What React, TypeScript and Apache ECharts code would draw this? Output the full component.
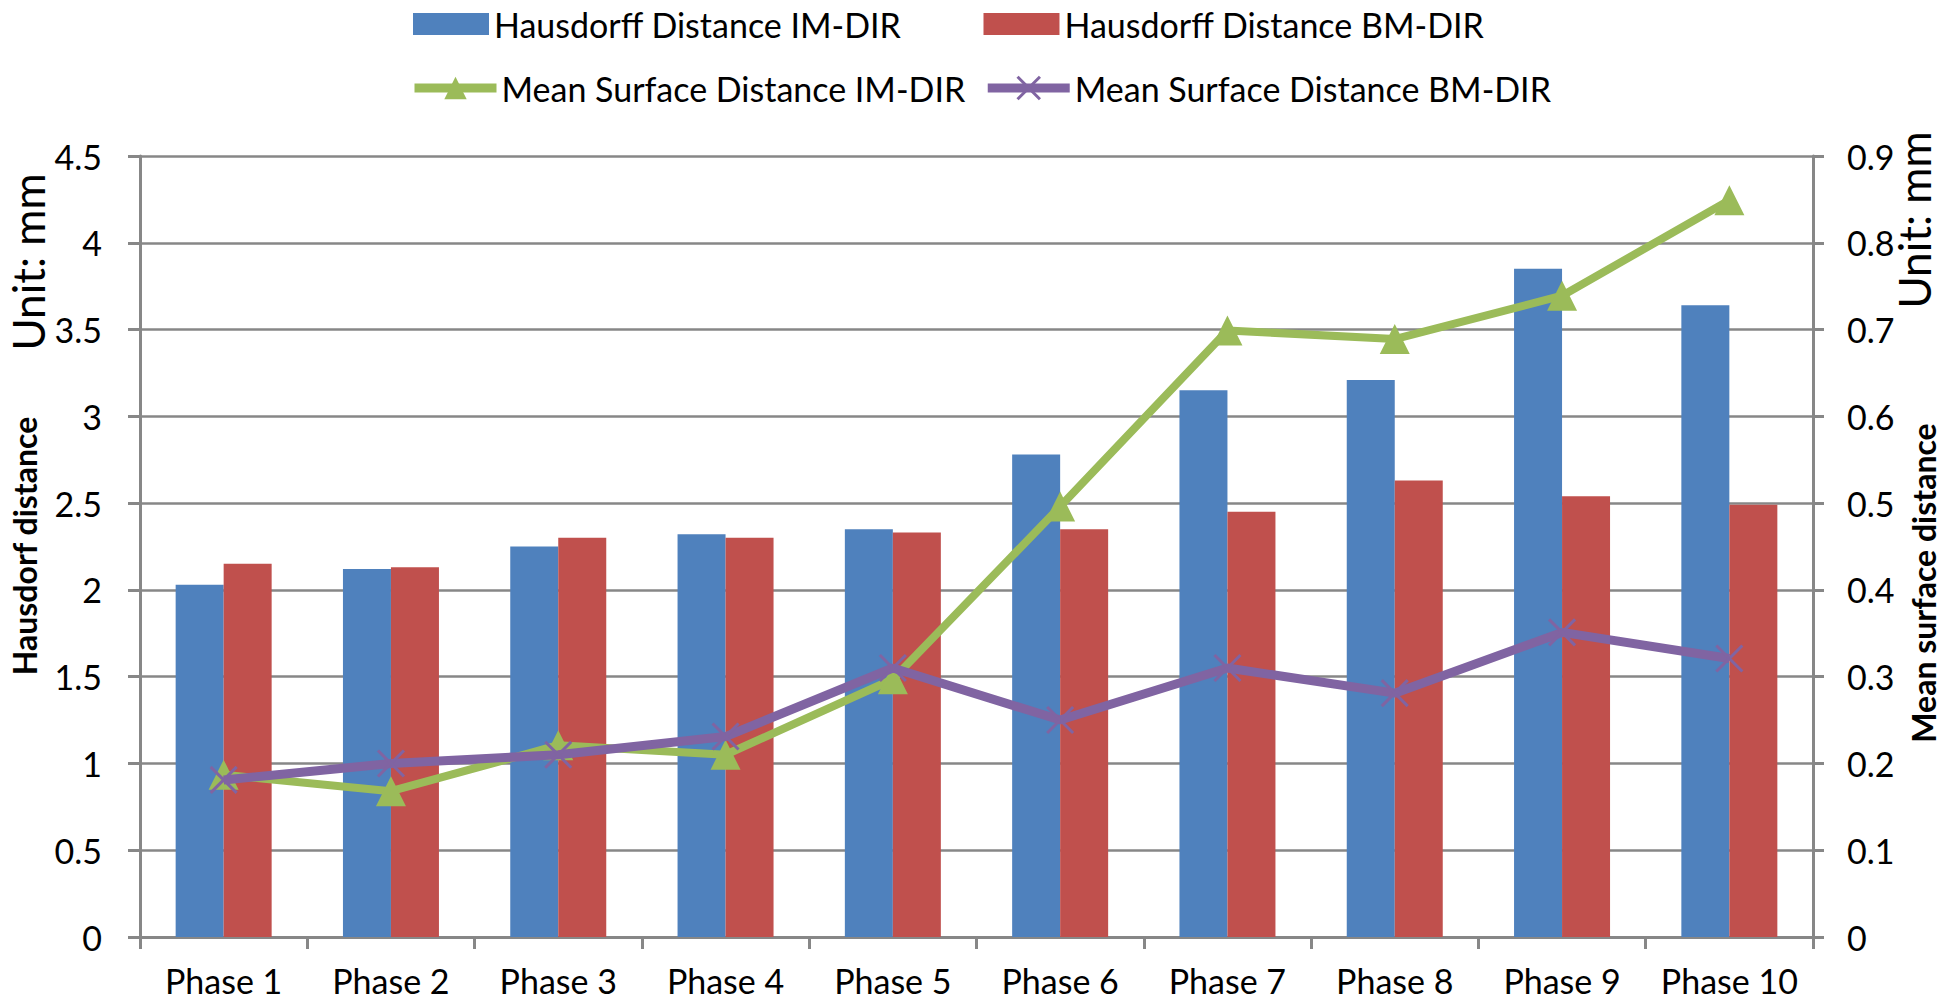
import React, { useEffect, useRef } from "react";
import * as echarts from "echarts";

const phases = ["Phase 1", "Phase 2", "Phase 3", "Phase 4", "Phase 5", "Phase 6", "Phase 7", "Phase 8", "Phase 9", "Phase 10"];
const hdIM = [2.03, 2.12, 2.25, 2.32, 2.35, 2.78, 3.15, 3.21, 3.85, 3.64];
const hdBM = [2.15, 2.13, 2.30, 2.30, 2.33, 2.35, 2.45, 2.63, 2.54, 2.49];
const msdIM = [0.187, 0.168, 0.221, 0.21, 0.297, 0.496, 0.699, 0.689, 0.739, 0.849];
const msdBM = [0.181, 0.2, 0.21, 0.231, 0.31, 0.25, 0.31, 0.281, 0.351, 0.321];
const leftTicks = { min: 0, max: 4.5, interval: 0.5 };
const rightTicks = { min: 0, max: 0.9, interval: 0.1 };

const FONT = "Lato, 'Noto Sans', sans-serif";
const GRAY = "#878787";
const X_PATH = "path://M0,0L10,10M0,10L10,0";

export default function App() {
  const ref = useRef<HTMLDivElement>(null);
  useEffect(() => {
    if (!ref.current) return;
    const chart = echarts.init(ref.current, undefined, { renderer: "svg" });
    chart.setOption({
      animation: false,
      backgroundColor: "#ffffff",
      textStyle: { fontFamily: FONT },
      legend: [
        {
          left: 408,
          top: 2,
          itemWidth: 76,
          itemHeight: 22,
          itemGap: 82,
          icon: "rect",
          textStyle: { fontFamily: FONT, fontSize: 34, color: "#000" },
          data: ["Hausdorff Distance IM-DIR", "Hausdorff Distance BM-DIR"],
        },
        {
          left: 405,
          top: 66,
          itemWidth: 82,
          itemHeight: 28,
          itemGap: 18,
          textStyle: { fontFamily: FONT, fontSize: 34, color: "#000" },
          itemStyle: { borderWidth: 3 },
          lineStyle: { width: 9 },
          data: ["Mean Surface Distance IM-DIR", "Mean Surface Distance BM-DIR"],
        },
      ],
      grid: { left: 140, right: 133, top: 156, bottom: 62, containLabel: false },
      xAxis: {
        type: "category",
        data: phases,
        axisLine: { lineStyle: { color: GRAY, width: 3 } },
        axisTick: { show: true, length: 12, lineStyle: { color: GRAY, width: 3 } },
        axisLabel: { fontFamily: FONT, fontSize: 34, color: "#000", margin: 26, interval: 0 },
      },
      yAxis: [
        {
          type: "value",
          ...leftTicks,
          position: "left",
          axisLine: { show: true, lineStyle: { color: GRAY, width: 3 } },
          axisTick: { show: true, length: 12, lineStyle: { color: GRAY, width: 3 } },
          splitLine: { show: true, lineStyle: { color: GRAY, width: 2.5 } },
          axisLabel: { fontFamily: FONT, fontSize: 34, color: "#000", margin: 38 },
        },
        {
          type: "value",
          ...rightTicks,
          position: "right",
          axisLine: { show: true, lineStyle: { color: GRAY, width: 3 } },
          axisTick: { show: true, length: 11, lineStyle: { color: GRAY, width: 3 } },
          splitLine: { show: false },
          axisLabel: { fontFamily: FONT, fontSize: 34, color: "#000", margin: 34 },
        },
      ],
      series: [
        {
          name: "Hausdorff Distance IM-DIR",
          type: "bar",
          yAxisIndex: 0,
          data: hdIM,
          barWidth: 48,
          barGap: "0%",
          itemStyle: { color: "#4F81BD" },
        },
        {
          name: "Hausdorff Distance BM-DIR",
          type: "bar",
          yAxisIndex: 0,
          data: hdBM,
          barWidth: 48,
          barGap: "0%",
          itemStyle: { color: "#C0504D" },
        },
        {
          name: "Mean Surface Distance IM-DIR",
          type: "line",
          yAxisIndex: 1,
          data: msdIM,
          symbol: "triangle",
          symbolSize: [30, 30],
          showAllSymbol: true,
          lineStyle: { color: "#9BBB59", width: 8 },
          itemStyle: { color: "#9BBB59" },
          z: 3,
        },
        {
          name: "Mean Surface Distance BM-DIR",
          type: "line",
          yAxisIndex: 1,
          data: msdBM,
          symbol: X_PATH,
          symbolSize: 26,
          showAllSymbol: true,
          lineStyle: { color: "#8064A2", width: 9 },
          itemStyle: { color: "#8064A2", borderColor: "#8064A2", borderWidth: 3 },
          z: 4,
        },
      ],
      graphic: [
        {
          type: "text",
          x: 28,
          y: 262,
          rotation: Math.PI / 2,
          style: { text: "Unit: mm", fontFamily: FONT, fontSize: 44, fill: "#000", align: "center", verticalAlign: "middle" },
        },
        {
          type: "text",
          x: 24,
          y: 546,
          rotation: Math.PI / 2,
          style: { text: "Hausdorf distance", fontFamily: FONT, fontSize: 32, fontWeight: "bold", fill: "#000", align: "center", verticalAlign: "middle" },
        },
        {
          type: "text",
          x: 1914,
          y: 220,
          rotation: Math.PI / 2,
          style: { text: "Unit: mm", fontFamily: FONT, fontSize: 44, fill: "#000", align: "center", verticalAlign: "middle" },
        },
        {
          type: "text",
          x: 1923,
          y: 583,
          rotation: Math.PI / 2,
          style: { text: "Mean surface distance", fontFamily: FONT, fontSize: 32, fontWeight: "bold", fill: "#000", align: "center", verticalAlign: "middle" },
        },
      ],
    });
    return () => chart.dispose();
  }, []);
  return <div ref={ref} style={{ position: "fixed", left: 0, top: 0, width: 1946, height: 999 }} />;
}
